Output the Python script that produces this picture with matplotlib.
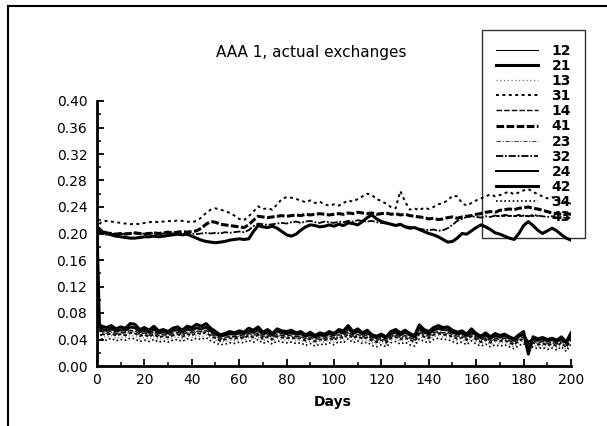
import matplotlib
matplotlib.use("Agg")
import matplotlib.pyplot as plt
from matplotlib.lines import Line2D

# days 0, 1, then every second day up to 200
days = [0, 1] + list(range(2, 201, 2))

s12 = [0.205, 0.062,
       0.057, 0.055, 0.058, 0.054, 0.056, 0.055, 0.060, 0.059, 0.053, 0.055,
       0.052, 0.057, 0.051, 0.053, 0.050, 0.055, 0.056, 0.052, 0.057, 0.055,
       0.059, 0.057, 0.060, 0.054, 0.050, 0.045, 0.047, 0.050, 0.048, 0.051,
       0.049, 0.054, 0.052, 0.056, 0.049, 0.052, 0.047, 0.053, 0.051, 0.050,
       0.051, 0.048, 0.050, 0.045, 0.049, 0.044, 0.048, 0.046, 0.050, 0.047,
       0.052, 0.051, 0.058, 0.050, 0.053, 0.048, 0.051, 0.045, 0.043, 0.046,
       0.042, 0.049, 0.052, 0.048, 0.051, 0.047, 0.044, 0.058, 0.052, 0.050,
       0.055, 0.058, 0.056, 0.056, 0.052, 0.049, 0.051, 0.046, 0.053, 0.047,
       0.043, 0.048, 0.042, 0.047, 0.044, 0.046, 0.042, 0.039, 0.045, 0.049,
       0.037, 0.042, 0.039, 0.041, 0.038, 0.040, 0.037, 0.042, 0.035, 0.047]

s21 = [0.210, 0.207,
       0.203, 0.200, 0.198, 0.196, 0.195, 0.194, 0.193, 0.193, 0.194, 0.195,
       0.195, 0.196, 0.195, 0.196, 0.197, 0.198, 0.199, 0.198, 0.199, 0.196,
       0.193, 0.190, 0.188, 0.187, 0.186, 0.187, 0.188, 0.190, 0.191, 0.192,
       0.191, 0.192, 0.203, 0.212, 0.210, 0.209, 0.211, 0.208, 0.203, 0.198,
       0.196, 0.199, 0.205, 0.210, 0.213, 0.212, 0.210, 0.211, 0.213, 0.211,
       0.214, 0.212, 0.216, 0.215, 0.213, 0.218, 0.224, 0.228, 0.222, 0.218,
       0.216, 0.214, 0.212, 0.214, 0.210, 0.208, 0.209, 0.206, 0.203, 0.200,
       0.198, 0.195, 0.191, 0.187, 0.188, 0.193, 0.200, 0.199, 0.204, 0.209,
       0.213, 0.210, 0.206, 0.201, 0.199, 0.196, 0.193, 0.191, 0.200, 0.212,
       0.218, 0.212, 0.205, 0.200, 0.204, 0.208, 0.204, 0.198, 0.193, 0.190]

s13 = [0.205, 0.058,
       0.045, 0.043, 0.046, 0.042, 0.044, 0.043, 0.046, 0.045, 0.041, 0.043,
       0.041, 0.044, 0.040, 0.042, 0.040, 0.043, 0.044, 0.041, 0.045, 0.043,
       0.046, 0.044, 0.047, 0.042, 0.039, 0.036, 0.037, 0.039, 0.038, 0.040,
       0.039, 0.043, 0.040, 0.044, 0.038, 0.041, 0.037, 0.042, 0.040, 0.039,
       0.040, 0.038, 0.039, 0.035, 0.038, 0.034, 0.037, 0.036, 0.039, 0.036,
       0.041, 0.039, 0.045, 0.039, 0.042, 0.038, 0.040, 0.035, 0.033, 0.036,
       0.032, 0.039, 0.041, 0.037, 0.040, 0.036, 0.034, 0.046, 0.041, 0.039,
       0.044, 0.046, 0.044, 0.044, 0.041, 0.038, 0.040, 0.036, 0.042, 0.037,
       0.033, 0.037, 0.032, 0.036, 0.034, 0.036, 0.032, 0.029, 0.035, 0.038,
       0.027, 0.032, 0.029, 0.031, 0.028, 0.030, 0.027, 0.032, 0.025, 0.037]

s31 = [0.205, 0.214,
       0.218, 0.219, 0.218, 0.217, 0.216, 0.215, 0.214, 0.215, 0.214, 0.216,
       0.217, 0.218, 0.217, 0.218, 0.219, 0.218, 0.220, 0.219, 0.218, 0.217,
       0.219, 0.224, 0.231, 0.236, 0.238, 0.236, 0.234, 0.231, 0.227, 0.222,
       0.220, 0.226, 0.233, 0.241, 0.237, 0.238, 0.236, 0.244, 0.252, 0.255,
       0.254, 0.252, 0.250, 0.247, 0.250, 0.246, 0.248, 0.244, 0.242, 0.244,
       0.242, 0.246, 0.250, 0.248, 0.252, 0.256, 0.260, 0.258, 0.252, 0.249,
       0.245, 0.240, 0.238, 0.264, 0.248, 0.236, 0.238, 0.235, 0.239, 0.237,
       0.240, 0.244, 0.246, 0.250, 0.257, 0.256, 0.246, 0.242, 0.246, 0.250,
       0.253, 0.256, 0.259, 0.256, 0.258, 0.261, 0.263, 0.259, 0.262, 0.265,
       0.267, 0.263, 0.259, 0.256, 0.253, 0.255, 0.251, 0.249, 0.247, 0.245]

s14 = [0.205, 0.060,
       0.052, 0.050, 0.053, 0.049, 0.051, 0.050, 0.054, 0.053, 0.048, 0.050,
       0.047, 0.052, 0.046, 0.048, 0.046, 0.050, 0.051, 0.047, 0.051, 0.050,
       0.053, 0.052, 0.054, 0.049, 0.045, 0.041, 0.043, 0.045, 0.044, 0.046,
       0.045, 0.049, 0.047, 0.050, 0.044, 0.048, 0.043, 0.048, 0.046, 0.045,
       0.047, 0.044, 0.045, 0.041, 0.044, 0.040, 0.043, 0.042, 0.045, 0.043,
       0.047, 0.046, 0.052, 0.045, 0.048, 0.044, 0.047, 0.041, 0.039, 0.042,
       0.038, 0.045, 0.047, 0.043, 0.046, 0.043, 0.040, 0.052, 0.047, 0.045,
       0.050, 0.052, 0.050, 0.051, 0.047, 0.045, 0.046, 0.042, 0.048, 0.043,
       0.039, 0.043, 0.038, 0.042, 0.040, 0.042, 0.038, 0.035, 0.041, 0.044,
       0.033, 0.038, 0.035, 0.037, 0.034, 0.036, 0.033, 0.038, 0.031, 0.043]

s41 = [0.200, 0.206,
       0.204, 0.201, 0.200, 0.199, 0.200, 0.199, 0.200, 0.201, 0.200, 0.199,
       0.200, 0.201, 0.200, 0.201, 0.202, 0.201, 0.202, 0.203, 0.202, 0.203,
       0.204, 0.208, 0.214, 0.218, 0.217, 0.214, 0.213, 0.212, 0.211, 0.210,
       0.209, 0.213, 0.220, 0.226, 0.225, 0.224, 0.225, 0.226, 0.227, 0.226,
       0.227, 0.228, 0.227, 0.229, 0.228, 0.229, 0.230, 0.229, 0.228, 0.229,
       0.230, 0.229, 0.231, 0.230, 0.232, 0.231, 0.230, 0.231, 0.229, 0.230,
       0.231, 0.229, 0.230, 0.228, 0.229, 0.227, 0.226, 0.225, 0.224, 0.222,
       0.223, 0.221, 0.222, 0.224, 0.225, 0.223, 0.225, 0.226, 0.227, 0.229,
       0.230, 0.232, 0.233, 0.232, 0.235, 0.236, 0.237, 0.236, 0.238, 0.239,
       0.240, 0.238, 0.237, 0.235, 0.233, 0.231, 0.230, 0.229, 0.230, 0.229]

s23 = [0.205, 0.060,
       0.050, 0.049, 0.051, 0.047, 0.050, 0.048, 0.052, 0.051, 0.047, 0.049,
       0.046, 0.050, 0.045, 0.047, 0.044, 0.048, 0.050, 0.046, 0.050, 0.048,
       0.052, 0.050, 0.053, 0.047, 0.044, 0.040, 0.042, 0.044, 0.042, 0.045,
       0.043, 0.048, 0.045, 0.049, 0.043, 0.046, 0.042, 0.047, 0.044, 0.044,
       0.045, 0.042, 0.044, 0.040, 0.043, 0.039, 0.042, 0.040, 0.044, 0.041,
       0.046, 0.044, 0.050, 0.044, 0.047, 0.042, 0.045, 0.040, 0.038, 0.041,
       0.037, 0.044, 0.046, 0.042, 0.045, 0.041, 0.039, 0.051, 0.046, 0.044,
       0.049, 0.051, 0.049, 0.049, 0.046, 0.043, 0.045, 0.041, 0.047, 0.042,
       0.038, 0.042, 0.037, 0.041, 0.039, 0.041, 0.037, 0.034, 0.040, 0.043,
       0.032, 0.037, 0.034, 0.036, 0.033, 0.035, 0.032, 0.037, 0.030, 0.042]

s32 = [0.205, 0.203,
       0.200, 0.198, 0.199, 0.200, 0.199, 0.200, 0.201, 0.200, 0.199, 0.200,
       0.201, 0.200, 0.199, 0.200, 0.201, 0.200, 0.201, 0.200, 0.199, 0.200,
       0.199, 0.200, 0.201, 0.200, 0.201, 0.200, 0.202, 0.201, 0.202, 0.203,
       0.202, 0.205, 0.211, 0.215, 0.214, 0.213, 0.214, 0.215, 0.216, 0.215,
       0.217, 0.218, 0.216, 0.218, 0.219, 0.217, 0.216, 0.218, 0.217, 0.216,
       0.218, 0.217, 0.219, 0.218, 0.220, 0.219, 0.218, 0.219, 0.217, 0.216,
       0.215, 0.214, 0.213, 0.212, 0.211, 0.210, 0.208, 0.207, 0.206, 0.205,
       0.206, 0.204, 0.205, 0.208, 0.213, 0.219, 0.222, 0.225, 0.226, 0.225,
       0.224, 0.226, 0.225, 0.227, 0.226, 0.228, 0.227, 0.226, 0.228, 0.227,
       0.226, 0.228, 0.227, 0.226, 0.225, 0.226, 0.224, 0.225, 0.223, 0.224]

s24 = [0.205, 0.061,
       0.055, 0.053, 0.056, 0.052, 0.054, 0.053, 0.058, 0.057, 0.051, 0.053,
       0.050, 0.055, 0.049, 0.051, 0.049, 0.053, 0.054, 0.050, 0.055, 0.053,
       0.057, 0.055, 0.058, 0.052, 0.048, 0.044, 0.046, 0.048, 0.047, 0.049,
       0.048, 0.052, 0.050, 0.054, 0.047, 0.051, 0.046, 0.052, 0.049, 0.048,
       0.050, 0.047, 0.048, 0.044, 0.047, 0.043, 0.046, 0.045, 0.048, 0.046,
       0.051, 0.049, 0.056, 0.048, 0.052, 0.047, 0.050, 0.044, 0.042, 0.045,
       0.041, 0.048, 0.050, 0.046, 0.050, 0.046, 0.043, 0.056, 0.050, 0.048,
       0.053, 0.056, 0.054, 0.054, 0.050, 0.048, 0.049, 0.045, 0.051, 0.046,
       0.042, 0.046, 0.041, 0.045, 0.043, 0.045, 0.041, 0.038, 0.044, 0.047,
       0.036, 0.041, 0.038, 0.040, 0.037, 0.039, 0.036, 0.041, 0.034, 0.046]

s42 = [0.205, 0.063,
       0.060, 0.058, 0.061, 0.056, 0.059, 0.057, 0.064, 0.063, 0.055, 0.058,
       0.054, 0.060, 0.053, 0.055, 0.052, 0.057, 0.059, 0.054, 0.060, 0.058,
       0.063, 0.060, 0.064, 0.057, 0.052, 0.047, 0.049, 0.052, 0.050, 0.053,
       0.051, 0.057, 0.054, 0.059, 0.051, 0.055, 0.049, 0.056, 0.053, 0.052,
       0.054, 0.050, 0.052, 0.047, 0.051, 0.046, 0.050, 0.048, 0.052, 0.049,
       0.055, 0.053, 0.061, 0.052, 0.056, 0.050, 0.054, 0.047, 0.045, 0.048,
       0.044, 0.052, 0.055, 0.050, 0.054, 0.049, 0.046, 0.062, 0.055, 0.052,
       0.058, 0.061, 0.058, 0.059, 0.054, 0.051, 0.053, 0.048, 0.056, 0.049,
       0.045, 0.050, 0.044, 0.049, 0.046, 0.048, 0.044, 0.041, 0.047, 0.052,
       0.018, 0.044, 0.041, 0.043, 0.040, 0.042, 0.039, 0.044, 0.036, 0.050]

s34 = [0.205, 0.057,
       0.041, 0.039, 0.042, 0.038, 0.040, 0.039, 0.042, 0.041, 0.037, 0.039,
       0.037, 0.040, 0.036, 0.038, 0.036, 0.039, 0.040, 0.037, 0.041, 0.039,
       0.042, 0.040, 0.043, 0.038, 0.035, 0.032, 0.033, 0.035, 0.034, 0.036,
       0.035, 0.039, 0.036, 0.040, 0.034, 0.037, 0.033, 0.038, 0.036, 0.035,
       0.036, 0.034, 0.035, 0.031, 0.034, 0.030, 0.033, 0.032, 0.035, 0.032,
       0.037, 0.035, 0.041, 0.035, 0.038, 0.034, 0.036, 0.031, 0.029, 0.032,
       0.029, 0.035, 0.037, 0.033, 0.036, 0.032, 0.030, 0.041, 0.037, 0.035,
       0.040, 0.042, 0.040, 0.040, 0.037, 0.034, 0.036, 0.032, 0.038, 0.033,
       0.030, 0.033, 0.029, 0.032, 0.030, 0.032, 0.029, 0.026, 0.031, 0.034,
       0.024, 0.029, 0.026, 0.028, 0.025, 0.027, 0.024, 0.029, 0.022, 0.033]

s43 = [0.205, 0.059,
       0.048, 0.047, 0.049, 0.046, 0.048, 0.046, 0.050, 0.049, 0.045, 0.047,
       0.044, 0.048, 0.043, 0.045, 0.043, 0.046, 0.048, 0.044, 0.048, 0.046,
       0.050, 0.048, 0.051, 0.045, 0.042, 0.038, 0.040, 0.042, 0.041, 0.043,
       0.042, 0.046, 0.043, 0.047, 0.041, 0.044, 0.040, 0.045, 0.043, 0.042,
       0.043, 0.041, 0.042, 0.038, 0.041, 0.037, 0.040, 0.039, 0.042, 0.039,
       0.044, 0.042, 0.048, 0.042, 0.045, 0.041, 0.043, 0.038, 0.036, 0.039,
       0.035, 0.042, 0.044, 0.040, 0.043, 0.039, 0.037, 0.049, 0.044, 0.042,
       0.047, 0.049, 0.047, 0.047, 0.044, 0.041, 0.043, 0.039, 0.045, 0.040,
       0.036, 0.040, 0.035, 0.039, 0.037, 0.039, 0.035, 0.032, 0.038, 0.041,
       0.030, 0.035, 0.032, 0.034, 0.031, 0.033, 0.030, 0.035, 0.028, 0.040]

labels = ["12", "21", "13", "31", "14", "41", "23", "32", "24", "42", "34", "43"]
series = [s12, s21, s13, s31, s14, s41, s23, s32, s24, s42, s34, s43]

# line look per series, same order as labels
styles = [
    dict(color="black", lw=0.8, ls="-"),
    dict(color="black", lw=2.2, ls="-"),
    dict(color="0.45", lw=0.9, ls=(0, (1, 2))),
    dict(color="black", lw=1.4, ls=(0, (1.5, 1.8))),
    dict(color="black", lw=1.0, ls=(0, (4, 1.5))),
    dict(color="black", lw=2.2, ls=(0, (2.5, 0.8))),
    dict(color="0.3", lw=0.8, ls=(0, (4, 1.5, 1, 1.5))),
    dict(color="black", lw=1.3, ls=(0, (4, 1, 1, 1))),
    dict(color="black", lw=1.4, ls="-"),
    dict(color="black", lw=2.2, ls="-"),
    dict(color="black", lw=1.2, ls=(0, (1, 1.5))),
    dict(color="black", lw=1.3, ls=(0, (2, 1.2))),
]

plt.rcParams["font.family"] = "DejaVu Sans"

fig = plt.figure(figsize=(6.07, 4.26), dpi=100)
ax = fig.add_axes([97 / 607, 1 - 366 / 426, 474 / 607, 265 / 426])

for lab, vals, st in zip(labels, series, styles):
    ax.plot(days, vals, label=lab, **st)

ax.set_xlim(0, 200)
ax.set_ylim(0, 0.40)
ax.set_xticks(range(0, 201, 20))
ax.set_xticks(range(0, 201, 10), minor=True)
ax.set_yticks([i * 0.04 for i in range(11)])
ax.set_yticks([i * 0.02 for i in range(21)], minor=True)
ax.set_yticklabels(["%.2f" % (i * 0.04) for i in range(11)])

for side in ["top", "right"]:
    ax.spines[side].set_visible(False)
for side in ["left", "bottom"]:
    ax.spines[side].set_linewidth(2)

ax.tick_params(which="major", direction="in", length=5, width=1.3, labelsize=10)
ax.tick_params(which="minor", direction="in", length=3, width=1.1)
ax.tick_params(axis="y", which="major", pad=7)
ax.tick_params(axis="x", which="major", pad=5)

fig.text(311 / 607, 1 - 53 / 426, "AAA 1, actual exchanges", ha="center", va="center", fontsize=11)
fig.text(333 / 607, 1 - 402 / 426, "Days", ha="center", va="center", fontsize=10, fontweight="bold")

leg = fig.legend(loc="upper left", bbox_to_anchor=(482 / 607, 1 - 30 / 426),
                 frameon=True, fancybox=False, facecolor="none", edgecolor="black",
                 prop={"size": 10, "weight": "bold"}, handlelength=3.0, handletextpad=1.0,
                 labelspacing=0.08, borderpad=1.0, borderaxespad=0)
leg.get_frame().set_linewidth(1.0)

# outer page frame (top and left edges only)
fig.add_artist(Line2D([8 / 607, 1], [1 - 6 / 426, 1 - 6 / 426], color="black", lw=1.5))
fig.add_artist(Line2D([8 / 607, 8 / 607], [0, 1 - 6 / 426], color="black", lw=1.5))

fig.savefig("out.png", dpi=100)
